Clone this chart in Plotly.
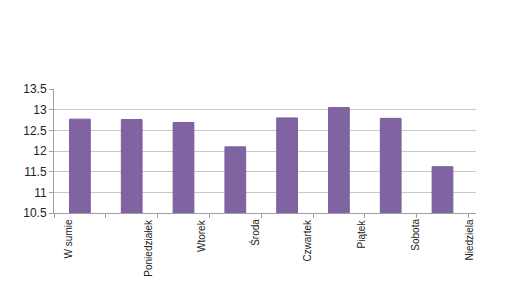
import plotly.graph_objects as go

categories = ["W sumie", "Poniedziałek", "Wtorek", "Środa", "Czwartek", "Piątek", "Sobota", "Niedziela"]
values = [12.77, 12.76, 12.69, 12.10, 12.80, 13.05, 12.79, 11.62]
y_ticks = [10.5, 11, 11.5, 12, 12.5, 13, 13.5]
y_tick_text = ["10.5", "11", "11.5", "12", "12.5", "13", "13.5"]
label_shift = [-11, 16, 18, 19, 20, 23, 24, 26]

fig = go.Figure()
fig.add_trace(go.Bar(x=categories, y=values, marker=dict(color="#8064a2", line=dict(color="#7a5e9c", width=1)),
                     width=0.4))

for c, s in zip(categories, label_shift):
    fig.add_annotation(x=c, y=0, xref="x", yref="paper", text=c, textangle=-90,
                       showarrow=False, xanchor="center", yanchor="top", xshift=s, yshift=-4,
                       font=dict(family="Liberation Sans, Arial", size=10, color="#222222"))

fig.update_layout(
    width=505, height=284,
    margin=dict(l=54, r=29, t=89, b=71),
    paper_bgcolor="white", plot_bgcolor="white",
    showlegend=False,
    font=dict(family="Liberation Sans, Arial", size=12, color="#222222"),
    xaxis=dict(type="category", showticklabels=False, ticks="outside", tickson="boundaries",
               ticklen=4, tickcolor="#a0a0a0", showline=True, linecolor="#a0a0a0", linewidth=1,
               showgrid=False),
    yaxis=dict(range=[10.5, 13.5], tickvals=y_ticks, ticktext=y_tick_text, ticks="outside",
               ticklen=4, tickcolor="#a0a0a0", showline=True, linecolor="#a0a0a0", linewidth=1,
               showgrid=True, gridcolor="#c8c8c8", gridwidth=1, zeroline=False),
)

fig.write_html("out.html")
